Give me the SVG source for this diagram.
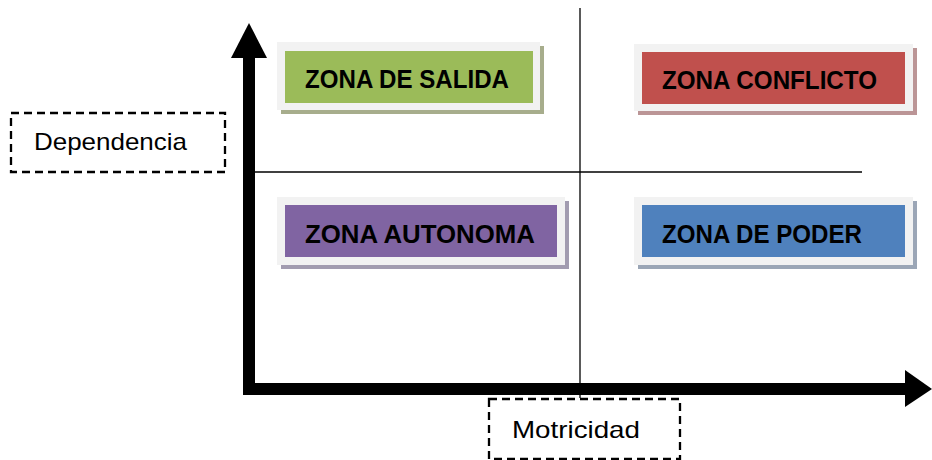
<svg xmlns="http://www.w3.org/2000/svg" width="932" height="460" viewBox="0 0 932 460">
<style>
.outer{fill:#f2f2f2}
.zt{font-family:"Liberation Sans",Arial,sans-serif;font-weight:bold;font-size:25px;fill:#000}
.lbl{font-family:"Liberation Sans",Arial,sans-serif;font-size:24px;fill:#000}
.dash{fill:#fff;stroke:#000;stroke-width:2.3;stroke-dasharray:8 5}
.thin{stroke:#000;stroke-width:1.3;fill:none}
</style>
<rect width="932" height="460" fill="#fff"/>
<g id="connectors">
<line class="thin" x1="580" y1="8" x2="580" y2="398"/>
<line class="thin" x1="255" y1="172" x2="862" y2="172"/>
<rect x="243" y="56" width="12" height="339" fill="#000"/>
<polygon points="249,23 267,58 231,58" fill="#000"/>
<rect x="243" y="383" width="664" height="12" fill="#000"/>
<polygon points="932,389 905,370 905,407" fill="#000"/>
</g>
<g id="zona-salida">
<rect x="281" y="46" width="263" height="68" fill="#a7ad8c"/>
<rect class="outer" x="277" y="42" width="263" height="68"/>
<rect x="285" y="51" width="248" height="52" fill="#9bbb59"/>
<text class="zt" x="305" y="88" textLength="204" lengthAdjust="spacingAndGlyphs">ZONA DE SALIDA</text>
</g>
<g id="zona-conflicto">
<rect x="638" y="48" width="279" height="67" fill="#bb9596"/>
<rect class="outer" x="634" y="44" width="279" height="67"/>
<rect x="642" y="52" width="263" height="52" fill="#c0504d"/>
<text class="zt" x="662" y="89" textLength="215" lengthAdjust="spacingAndGlyphs">ZONA CONFLICTO</text>
</g>
<g id="zona-autonoma">
<rect x="281" y="201" width="288" height="68" fill="#a29cb0"/>
<rect class="outer" x="277" y="197" width="288" height="68"/>
<rect x="285" y="205" width="272" height="52" fill="#8064a2"/>
<text class="zt" x="305" y="243" textLength="230" lengthAdjust="spacingAndGlyphs">ZONA AUTONOMA</text>
</g>
<g id="zona-poder">
<rect x="638" y="201" width="279" height="68" fill="#9ba6b6"/>
<rect class="outer" x="634" y="197" width="279" height="68"/>
<rect x="642" y="205" width="263" height="52" fill="#4f81bd"/>
<text class="zt" x="662" y="243" textLength="200" lengthAdjust="spacingAndGlyphs">ZONA DE PODER</text>
</g>
<g id="dependencia">
<rect class="dash" x="11" y="113" width="214" height="59"/>
<text class="lbl" x="34" y="150" textLength="153" lengthAdjust="spacingAndGlyphs">Dependencia</text>
</g>
<g id="motricidad">
<rect class="dash" x="489" y="399" width="191" height="60"/>
<text class="lbl" x="512" y="438" textLength="128" lengthAdjust="spacingAndGlyphs">Motricidad</text>
</g>
</svg>
